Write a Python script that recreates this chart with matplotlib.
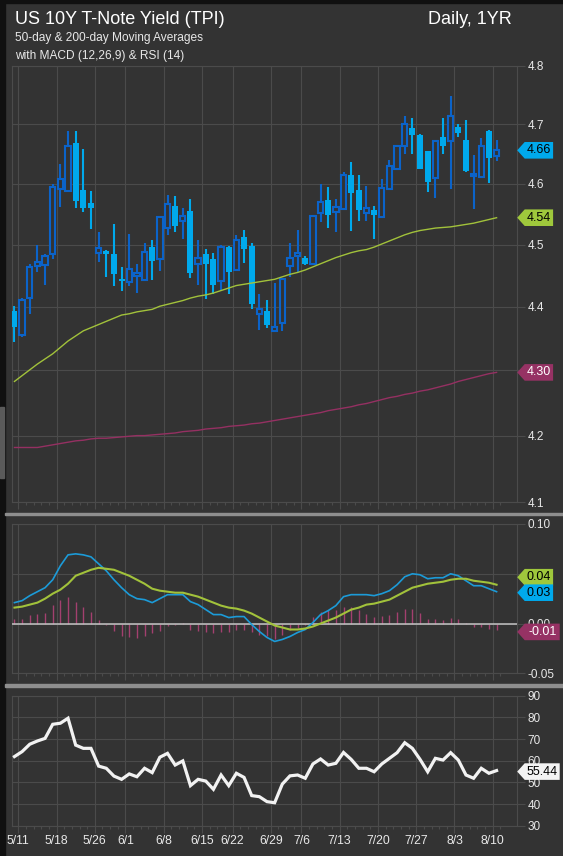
import matplotlib
matplotlib.use("Agg")
import matplotlib.pyplot as plt
from matplotlib.patches import Polygon, Rectangle
from matplotlib.ticker import FixedLocator, FuncFormatter, NullLocator, NullFormatter

plt.rcParams['font.family'] = ['Liberation Sans', 'DejaVu Sans']

# trading days shown on the chart
dates = ["5/8",
         "5/11", "5/12", "5/13", "5/14", "5/15",
         "5/18", "5/19", "5/20", "5/21", "5/22",
         "5/26", "5/27", "5/28", "5/29",
         "6/1", "6/2", "6/3", "6/4", "6/5",
         "6/8", "6/9", "6/10", "6/11", "6/12",
         "6/15", "6/16", "6/17", "6/18",
         "6/22", "6/23", "6/24", "6/25", "6/26",
         "6/29", "6/30", "7/1", "7/2",
         "7/6", "7/7", "7/8", "7/9", "7/10",
         "7/13", "7/14", "7/15", "7/16", "7/17",
         "7/20", "7/21", "7/22", "7/23", "7/24",
         "7/27", "7/28", "7/29", "7/30", "7/31",
         "8/3", "8/4", "8/5", "8/6", "8/7",
         "8/10"]
label_dates = ["5/11", "5/18", "5/26", "6/1", "6/8", "6/15", "6/22",
               "6/29", "7/6", "7/13", "7/20", "7/27", "8/3", "8/10"]

opens = [4.393, 4.356, 4.414, 4.465, 4.467, 4.484, 4.592, 4.588, 4.668, 4.589,
         4.569, 4.486, 4.489, 4.485, 4.444, 4.440, 4.450, 4.443, 4.496, 4.477,
         4.527, 4.564, 4.538, 4.555, 4.469, 4.484, 4.476, 4.441, 4.496, 4.459,
         4.512, 4.498, 4.388, 4.393, 4.361, 4.375, 4.465, 4.481, 4.479, 4.469,
         4.552, 4.573, 4.554, 4.558, 4.615, 4.589, 4.552, 4.557, 4.545, 4.592,
         4.625, 4.664, 4.694, 4.681, 4.654, 4.610, 4.678, 4.671, 4.696, 4.674,
         4.613, 4.612, 4.689, 4.647]
highs = [4.402, 4.414, 4.469, 4.500, 4.484, 4.599, 4.633, 4.689, 4.689, 4.658,
         4.588, 4.521, 4.492, 4.533, 4.463, 4.518, 4.469, 4.503, 4.508, 4.546,
         4.581, 4.579, 4.560, 4.574, 4.508, 4.493, 4.487, 4.499, 4.498, 4.515,
         4.524, 4.502, 4.420, 4.411, 4.438, 4.445, 4.502, 4.524, 4.481, 4.548,
         4.599, 4.594, 4.575, 4.619, 4.637, 4.615, 4.597, 4.564, 4.608, 4.639,
         4.664, 4.714, 4.711, 4.683, 4.654, 4.672, 4.711, 4.748, 4.701, 4.708,
         4.648, 4.677, 4.690, 4.673]
lows = [4.344, 4.353, 4.388, 4.455, 4.435, 4.476, 4.562, 4.586, 4.560, 4.553,
        4.525, 4.472, 4.448, 4.434, 4.425, 4.434, 4.422, 4.443, 4.443, 4.457,
        4.515, 4.520, 4.509, 4.446, 4.435, 4.413, 4.420, 4.425, 4.420, 4.458,
        4.470, 4.397, 4.364, 4.366, 4.360, 4.361, 4.448, 4.455, 4.467, 4.468,
        4.537, 4.527, 4.520, 4.557, 4.522, 4.538, 4.538, 4.509, 4.543, 4.592,
        4.624, 4.650, 4.649, 4.624, 4.586, 4.576, 4.650, 4.592, 4.678, 4.619,
        4.558, 4.610, 4.601, 4.638]
closes = [4.368, 4.411, 4.463, 4.472, 4.482, 4.595, 4.608, 4.664, 4.572, 4.560,
          4.560, 4.494, 4.485, 4.453, 4.441, 4.461, 4.454, 4.488, 4.474, 4.545,
          4.566, 4.530, 4.546, 4.454, 4.478, 4.469, 4.435, 4.496, 4.456, 4.507,
          4.493, 4.405, 4.397, 4.371, 4.368, 4.444, 4.479, 4.487, 4.469, 4.546,
          4.570, 4.549, 4.561, 4.615, 4.584, 4.557, 4.560, 4.549, 4.593, 4.629,
          4.663, 4.700, 4.681, 4.625, 4.603, 4.671, 4.664, 4.714, 4.686, 4.622,
          4.616, 4.664, 4.643, 4.656]

ma50 = [4.283, 4.292, 4.301, 4.310, 4.318, 4.326, 4.336, 4.346, 4.354, 4.362,
        4.367, 4.372, 4.377, 4.382, 4.387, 4.389, 4.392, 4.394, 4.396, 4.401,
        4.404, 4.407, 4.410, 4.414, 4.417, 4.419, 4.422, 4.426, 4.430, 4.434,
        4.436, 4.438, 4.440, 4.442, 4.444, 4.448, 4.452, 4.455, 4.459, 4.464,
        4.469, 4.474, 4.479, 4.483, 4.487, 4.490, 4.492, 4.496, 4.501, 4.506,
        4.511, 4.516, 4.520, 4.523, 4.525, 4.527, 4.528, 4.529, 4.531, 4.533,
        4.535, 4.538, 4.541, 4.544]
ma200 = [4.182, 4.182, 4.182, 4.182, 4.184, 4.186, 4.188, 4.190, 4.192, 4.193,
         4.195, 4.196, 4.196, 4.197, 4.198, 4.199, 4.200, 4.200, 4.201, 4.202,
         4.203, 4.204, 4.206, 4.207, 4.208, 4.210, 4.211, 4.212, 4.214, 4.215,
         4.216, 4.218, 4.219, 4.221, 4.223, 4.225, 4.227, 4.229, 4.231, 4.233,
         4.235, 4.238, 4.240, 4.242, 4.244, 4.247, 4.249, 4.252, 4.255, 4.258,
         4.260, 4.263, 4.265, 4.268, 4.270, 4.273, 4.276, 4.279, 4.283, 4.286,
         4.289, 4.292, 4.295, 4.297]

macd = [0.021, 0.023, 0.028, 0.032, 0.036, 0.044, 0.058, 0.069, 0.070, 0.069,
        0.067, 0.060, 0.053, 0.044, 0.036, 0.029, 0.025, 0.024, 0.021, 0.025,
        0.029, 0.029, 0.029, 0.022, 0.019, 0.014, 0.009, 0.009, 0.006, 0.007,
        0.007, -0.001, -0.008, -0.014, -0.018, -0.016, -0.013, -0.009, -0.006, 0.001,
        0.009, 0.013, 0.018, 0.027, 0.029, 0.029, 0.029, 0.028, 0.030, 0.033,
        0.039, 0.047, 0.050, 0.049, 0.045, 0.046, 0.046, 0.050, 0.048, 0.043,
        0.038, 0.038, 0.035, 0.032]
signal = [0.016, 0.017, 0.019, 0.021, 0.025, 0.030, 0.034, 0.040, 0.048, 0.051,
          0.054, 0.056, 0.055, 0.054, 0.051, 0.048, 0.044, 0.040, 0.035, 0.033,
          0.032, 0.031, 0.031, 0.029, 0.027, 0.024, 0.021, 0.018, 0.016, 0.015,
          0.013, 0.010, 0.006, 0.002, -0.002, -0.004, -0.006, -0.006, -0.005, -0.003,
          0.000, 0.003, 0.006, 0.010, 0.014, 0.016, 0.019, 0.020, 0.022, 0.024,
          0.028, 0.032, 0.036, 0.038, 0.040, 0.041, 0.042, 0.044, 0.045, 0.045,
          0.043, 0.042, 0.041, 0.039]
hist = [0.005, 0.005, 0.009, 0.010, 0.011, 0.019, 0.024, 0.027, 0.022, 0.017,
        0.012, 0.004, -0.001, -0.008, -0.013, -0.014, -0.015, -0.013, -0.010, -0.007,
        -0.002, -0.001, 0.0003, -0.006, -0.008, -0.009, -0.010, -0.009, -0.009, -0.006,
        -0.006, -0.009, -0.012, -0.013, -0.016, -0.012, -0.006, -0.004, -0.001, 0.007,
        0.012, 0.014, 0.014, 0.017, 0.017, 0.014, 0.010, 0.007, 0.008, 0.009,
        0.012, 0.015, 0.015, 0.011, 0.005, 0.005, 0.004, 0.006, 0.005, 0.0003,
        -0.003, -0.003, -0.005, -0.006]

rsi = [61.9, 64.2, 67.6, 69.1, 70.3, 76.8, 77.3, 79.6, 67.2, 65.7,
       65.7, 57.5, 56.5, 52.9, 51.4, 53.9, 52.6, 56.5, 54.5, 61.6,
       63.4, 58.0, 59.9, 48.5, 51.4, 50.6, 46.8, 53.4, 48.5, 54.2,
       52.3, 43.9, 43.4, 41.1, 40.6, 49.2, 53.0, 53.4, 51.9, 58.5,
       60.8, 58.0, 58.8, 63.8, 60.6, 56.5, 56.5, 54.9, 58.5, 61.1,
       63.7, 68.3, 65.7, 60.6, 54.9, 61.1, 60.3, 63.7, 60.3, 53.4,
       51.9, 56.5, 54.2, 55.44]

W, H = 563, 856
BG = '#333333'
GRID = '#4b4b4b'
TXT = '#e8e8e8'
UP = '#0b63c9'
DOWN = '#00a9ec'
MA50_C = '#a2c23b'
MA200_C = '#953062'
MACD_C = '#1c9bd8'
HIST_C = '#a3406f'

fig = plt.figure(figsize=(W / 100, H / 100), dpi=100, facecolor=BG)


def px_axes(left, top, right, bottom):
    return fig.add_axes([left / W, 1 - bottom / H, (right - left) / W, (bottom - top) / H])


ax1 = px_axes(11.7, 66, 516.7, 502.3)
ax2 = px_axes(11.7, 524, 516.7, 673.3)
ax3 = px_axes(11.7, 695.7, 516.7, 825.7)

x = list(range(len(dates)))
major_x = [dates.index(d) - 0.5 for d in label_dates]
minor_x = [i - 0.5 for i in x if (i - 0.5) not in major_x] + [len(dates) - 0.5]

for ax in (ax1, ax2, ax3):
    ax.set_facecolor(BG)
    ax.set_xlim(-0.36, 65.63)
    ax.xaxis.set_major_locator(FixedLocator(major_x))
    ax.xaxis.set_minor_locator(FixedLocator(minor_x))
    ax.xaxis.set_major_formatter(NullFormatter())
    ax.yaxis.tick_right()
    ax.tick_params(axis='x', which='major', length=5, width=0.8, color=GRID, direction='out')
    ax.tick_params(axis='x', which='minor', length=2.2, width=0.8, color=GRID, direction='out')
    ax.tick_params(axis='y', which='major', length=6, width=0.8, color=GRID, labelsize=8.5,
                   labelcolor=TXT, pad=2)
    ax.tick_params(axis='y', which='minor', length=0)
    for s in ax.spines.values():
        s.set_color(GRID)
        s.set_linewidth(0.8)
    ax.grid(True, which='major', color=GRID, lw=0.8)
    ax.set_axisbelow(True)

# price panel (log scale); the 4.3 label sits under the 200-day tag
ax1.set_yscale('log')
ax1.set_ylim(4.1, 4.8)
ax1.yaxis.set_major_locator(FixedLocator([4.1, 4.2, 4.3, 4.4, 4.5, 4.6, 4.7, 4.8]))
ax1.yaxis.set_major_formatter(FuncFormatter(lambda v, p: "" if abs(v - 4.3) < 1e-6 else f"{v:.1f}"))
ax1.yaxis.set_minor_locator(NullLocator())
ax1.yaxis.set_minor_formatter(NullFormatter())

for i in x:
    o, h, l, c = opens[i], highs[i], lows[i], closes[i]
    col = UP if c >= o else DOWN
    ax1.vlines(i, l, h, color=col, lw=1.5, zorder=2)
    if c >= o:
        ax1.bar(i, max(c - o, 0.0005), bottom=o, width=0.70, facecolor=BG, edgecolor=UP,
                linewidth=1.5, zorder=3)
    else:
        ax1.bar(i, o - c, bottom=c, width=0.78, color=DOWN, linewidth=0, zorder=3)

ax1.plot(x, ma50, color=MA50_C, lw=1.0, zorder=4)
ax1.plot(x, ma200, color=MA200_C, lw=1.0, zorder=4)

# MACD panel; the 0.05 label sits under the signal tag
ax2.set_ylim(-0.05, 0.10)
ax2.yaxis.set_major_locator(FixedLocator([-0.05, 0.0, 0.05, 0.10]))
ax2.yaxis.set_major_formatter(FuncFormatter(lambda v, p: "" if abs(v - 0.05) < 1e-9 else f"{v:.2f}"))
ax2.vlines(x, 0, hist, color=HIST_C, lw=1.0, zorder=2)
ax2.axhline(0, color='#c4c4c4', lw=1.1, zorder=3)
ax2.plot(x, macd, color=MACD_C, lw=1.2, zorder=4)
ax2.plot(x, signal, color=MA50_C, lw=1.5, zorder=5)

# RSI panel
ax3.set_ylim(30, 90)
ax3.yaxis.set_major_locator(FixedLocator([30, 40, 50, 60, 70, 80, 90]))
ax3.yaxis.set_major_formatter(FuncFormatter(lambda v, p: f"{v:.0f}"))
ax3.plot(x, rsi, color='#f2f2f2', lw=2.3, zorder=4, solid_joinstyle='miter')
ax3.xaxis.set_major_formatter(FuncFormatter(
    lambda v, p: label_dates[major_x.index(v)] if v in major_x else ""))
ax3.tick_params(axis='x', which='major', labelsize=8.8, labelcolor=TXT, pad=2)


def tag(ax, value, text, fc, tc, dy=0.0):
    x0 = ax.bbox.x1
    y = ax.transData.transform((0, value))[1] + dy
    w = 10 + 6.6 * len(text)
    h = 8.3
    pts = [(x0 + 0.5, y), (x0 + 8, y + h), (x0 + w, y + h), (x0 + w, y - h), (x0 + 8, y - h)]
    pts = [(px / W, py / H) for px, py in pts]
    fig.add_artist(Polygon(pts, closed=True, fc=fc, ec='none', transform=fig.transFigure, zorder=5))
    fig.text((x0 + 8 + x0 + w) / 2 / W, y / H, text, color=tc, fontsize=9,
             ha='center', va='center', zorder=6)


tag(ax1, closes[-1], f"{closes[-1]:.2f}", DOWN, 'black')
tag(ax1, ma50[-1], f"{ma50[-1]:.2f}", '#9fc83c', 'black')
tag(ax1, ma200[-1], f"{ma200[-1]:.2f}", '#963264', 'white')
tag(ax2, signal[-1], f"{signal[-1]:.2f}", '#9fc83c', 'black', dy=7.5)
tag(ax2, macd[-1], f"{macd[-1]:.2f}", DOWN, 'black', dy=-1)
tag(ax2, hist[-1], f"{hist[-1]:.2f}", '#963264', 'white', dy=-2.4)
tag(ax3, rsi[-1], f"{rsi[-1]:.2f}", '#f4f4f4', 'black', dy=-1)

# frame pieces and panel separators
fig.add_artist(Rectangle((0, 0), 5 / W, 1, transform=fig.transFigure, color='#101010', zorder=0))
fig.add_artist(Rectangle((0, 1 - 3 / H), 1, 3 / H, transform=fig.transFigure, color='#101010', zorder=0))
fig.add_artist(Rectangle((0, 1 - 478 / H), 3.5 / W, 71 / H, transform=fig.transFigure, color='#5a5a5a', zorder=1))
for top in (512.6, 684.0):
    fig.add_artist(Rectangle((5 / W, 1 - (top + 2.7) / H), 1, 2.7 / H, transform=fig.transFigure,
                             color='#8e8e8e', zorder=1))

# titles
fig.text(15 / W, 1 - 19.5 / H, "US 10Y T-Note Yield (TPI)", color='white', fontsize=13,
         ha='left', va='center')
fig.text(512 / W, 1 - 19.5 / H, "Daily, 1YR", color='white', fontsize=13, ha='right', va='center')
fig.text(15 / W, 1 - 38.3 / H, "50-day & 200-day Moving Averages", color=TXT, fontsize=8.6,
         ha='left', va='center')
fig.text(15 / W, 1 - 55.5 / H, "with MACD (12,26,9) & RSI (14)", color=TXT, fontsize=8.6,
         ha='left', va='center')

fig.savefig("out.png", dpi=100, facecolor=BG)
